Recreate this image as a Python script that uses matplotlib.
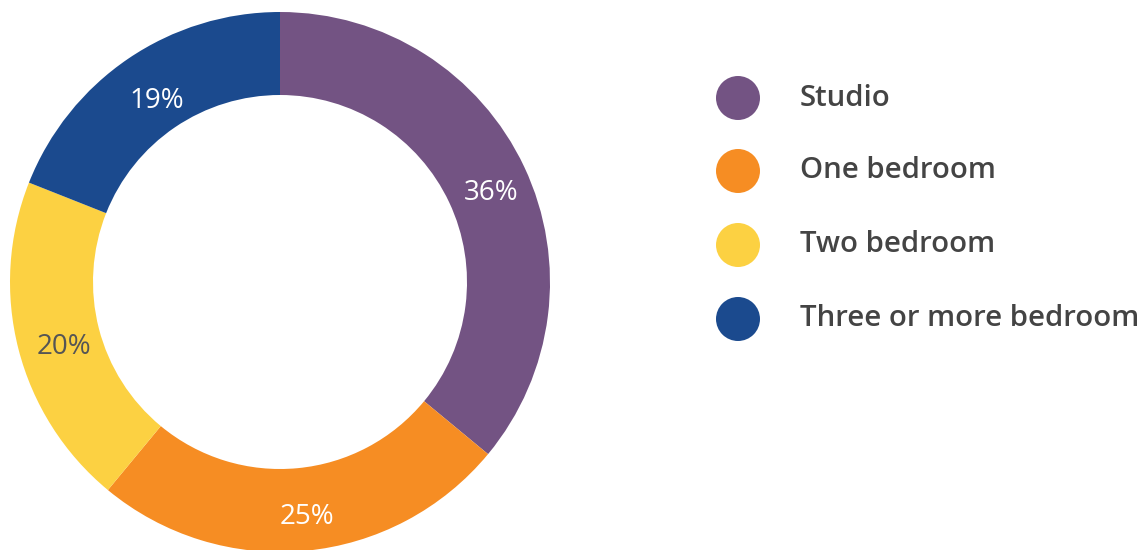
import matplotlib
matplotlib.use("Agg")
import matplotlib.pyplot as plt
from matplotlib.patches import Circle

categories = ["Studio", "One bedroom", "Two bedroom", "Three or more bedroom"]
shares = [36, 25, 20, 19]
colors = ["#735383", "#F68D23", "#FCD142", "#1B4A8E"]
label_colors = ["white", "white", "#555555", "white"]

W, H = 1143, 550
fig = plt.figure(figsize=(W / 100, H / 100), dpi=100)
ax = fig.add_axes([0, 0, 1, 1])

cx, cy, R = 280, H - 282, 270
wedges, texts, autotexts = ax.pie(
    shares, colors=colors, startangle=90, counterclock=False,
    center=(cx, cy), radius=R,
    wedgeprops=dict(width=R - 187, linewidth=0),
    autopct=lambda p: f"{p:.0f}%", pctdistance=0.845,
    textprops=dict(family="Open Sans", fontsize=20),
)
for t, c in zip(autotexts, label_colors):
    t.set_color(c)
    x, y = t.get_position()
    t.set_position((x + 5, y - 8))

ax.set_xlim(0, W)
ax.set_ylim(0, H)
ax.set_aspect("equal")
ax.axis("off")

ys = [98, 171, 245, 319]
for name, col, y in zip(categories, colors, ys):
    ax.add_patch(Circle((738, H - y), 22, color=col, lw=0))
    ax.text(800, H - y, name, fontsize=21.2, family="Open Sans", fontweight="semibold",
            color="#444444", va="center", ha="left")

fig.savefig("out.png", dpi=100)
